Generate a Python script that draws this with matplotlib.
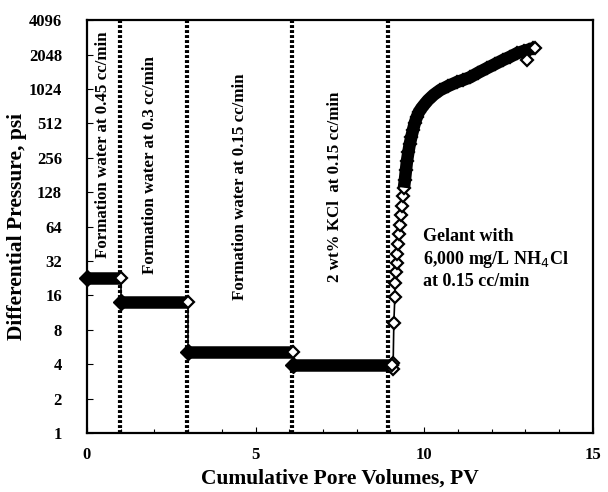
import numpy as np
import matplotlib
matplotlib.use("Agg")
import matplotlib.pyplot as plt
from matplotlib.ticker import FixedLocator, MultipleLocator

plt.rcParams['font.family'] = ['Liberation Serif', 'DejaVu Serif']

# brine stages: start PV, end PV, stabilised differential pressure (psi)
stage_start = [0.0, 1.0, 3.0, 6.1]
stage_end = [1.0, 3.0, 6.1, 9.05]
stage_dp = [22.6, 14.0, 5.1, 3.95]

# stage boundaries (dotted lines)
boundary_pv = [0.98, 2.97, 6.08, 8.93]

# gelant injection
gelant_pv = [9.07, 9.08, 9.10, 9.13, 9.13, 9.16, 9.19, 9.19, 9.22, 9.25,
             9.28, 9.31, 9.34, 9.37, 9.40, 9.43, 9.46, 9.49, 9.53, 9.57,
             9.62, 9.67, 9.72, 9.78, 9.84, 9.91, 9.99, 10.11, 10.28, 10.47,
             10.72, 10.97, 11.16, 11.36, 11.60, 11.86, 12.10, 12.33, 12.55, 12.75,
             12.95, 13.10, 13.22]
gelant_dp = [3.6, 4.1, 9.2, 15.5, 20.5, 25.6, 31, 37, 45, 55,
             66, 80, 97, 118, 140, 165, 200, 240, 285, 335,
             390, 450, 515, 580, 640, 690, 740, 816, 910, 1000,
             1090, 1176, 1230, 1296, 1420, 1556, 1690, 1830, 1960, 2100,
             2200, 2260, 2330]
gelant_end_pv = [13.05, 13.28]
gelant_end_dp = [1850, 2330]

stage_labels = ["Formation water at 0.45 cc/min",
                "Formation water at 0.3 cc/min",
                "Formation water at 0.15 cc/min",
                "2 wt% KCl  at 0.15 cc/min"]
stage_label_pv = [0.48, 1.87, 4.54, 7.35]
stage_label_dp = [330, 221, 142, 142]

y_ticks = [1, 2, 4, 8, 16, 32, 64, 128, 256, 512, 1024, 2048, 4096]

fig = plt.figure(figsize=(6.08, 4.92), dpi=100)
ax = fig.add_axes([0.143, 0.120, 0.832, 0.839])

mk = dict(marker='D', markersize=6.5, markerfacecolor='white',
          markeredgecolor='black', markeredgewidth=1.6)

for x0, x1, dp in zip(stage_start, stage_end, stage_dp):
    ax.plot([x0, x1], [dp, dp], color='black', lw=9, solid_capstyle='butt', zorder=3)
    ax.plot([x0], [dp], marker='D', markersize=8, color='black', zorder=3, clip_on=False)
    ax.plot([x1], [dp], zorder=4, **mk)

# vertical jumps between stages
for i in range(len(stage_dp) - 1):
    ax.plot([stage_end[i], stage_end[i]], [stage_dp[i], stage_dp[i + 1]],
            color='black', lw=1.2, zorder=3)

ax.plot([stage_end[-1]] + gelant_pv, [stage_dp[-1]] + gelant_dp,
        color='black', lw=1.2, zorder=3, **mk)
# dense part of the gelant curve reads as a solid band
ax.plot(gelant_pv[14:], gelant_dp[14:], color='black', lw=9,
        solid_capstyle='butt', solid_joinstyle='round', zorder=4)
ax.plot(gelant_end_pv, gelant_end_dp, ls='none', zorder=5, **mk)

for x in boundary_pv:
    ax.axvline(x, color='black', lw=3, ls=(0, (0.7, 0.5)), zorder=2)

for x, y, s in zip(stage_label_pv, stage_label_dp, stage_labels):
    ax.text(x, y, s, rotation=90, ha='center', va='center', fontsize=12.2,
            fontweight='bold')

ax.text(9.96, 62, "Gelant with\n6,000 mg/L NH$_4$Cl\nat 0.15 cc/min",
        ha='left', va='top', fontsize=13, fontweight='bold', linespacing=1.25)

ax.set_yscale('log', base=2)
ax.set_ylim(1, 4096)
ax.set_xlim(0, 15)
ax.yaxis.set_major_locator(FixedLocator(y_ticks))
ax.yaxis.set_minor_locator(FixedLocator([]))
ax.set_yticklabels([str(t) for t in y_ticks])
ax.xaxis.set_major_locator(MultipleLocator(5))
ax.xaxis.set_minor_locator(MultipleLocator(1))
ax.tick_params(direction='in', which='both', labelsize=12, width=0.8)
ax.tick_params(which='major', length=4)
ax.tick_params(axis='y', which='major', pad=18)
ax.tick_params(axis='x', which='major', pad=10)
ax.tick_params(which='minor', length=3)
for lab in ax.get_xticklabels() + ax.get_yticklabels():
    lab.set_fontweight('bold')
for sp in ax.spines.values():
    sp.set_linewidth(1.6)

ax.set_xlabel("Cumulative Pore Volumes, PV", fontsize=15.5, fontweight='bold', labelpad=4)
ax.set_ylabel("Differential Pressure, psi", fontsize=15.5, fontweight='bold', labelpad=1)

fig.savefig("out.png", dpi=100)
